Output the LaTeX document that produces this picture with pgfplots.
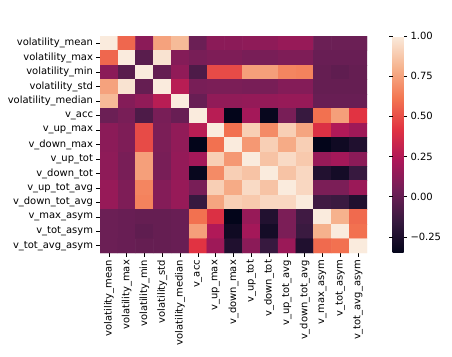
\documentclass[border=0pt]{standalone}
\usepackage{pgfplots}
\pgfplotsset{compat=1.18}
\usepackage{fontspec}
\setmainfont{DejaVu Sans}
\pgfplotsset{colormap={rocket}{rgb255(0)=(3,5,26) rgb255(1)=(53,25,62) rgb255(2)=(112,31,87) rgb255(3)=(173,23,89) rgb255(4)=(225,51,66) rgb255(5)=(243,118,81) rgb255(6)=(246,180,143) rgb255(7)=(250,235,221)}}
\begin{document}
\begin{tikzpicture}
\useasboundingbox (0,0) rectangle (452bp,357bp);
\begin{axis}[
  at={(100bp,104bp)}, anchor=south west,
  width=267bp, height=217bp, scale only axis,
  xmin=-0.5, xmax=14.5, ymin=-0.5, ymax=14.5,
  y dir=reverse,
  colormap name=rocket,
  point meta min=-0.35, point meta max=1.0,
  axis line style={draw=none},
  tick style={black, line width=0.6pt},
  tick align=outside, major tick length=3.5bp,
  xtick pos=left, ytick pos=left,
  xtick={0,...,14}, ytick={0,...,14},
  font=\fontsize{10}{12}\selectfont,
  xticklabels={volatility\_mean,volatility\_max,volatility\_min,volatility\_std,volatility\_median,v\_acc,v\_up\_max,v\_down\_max,v\_up\_tot,v\_down\_tot,v\_up\_tot\_avg,v\_down\_tot\_avg,v\_max\_asym,v\_tot\_asym,v\_tot\_avg\_asym},
  yticklabels={volatility\_mean,volatility\_max,volatility\_min,volatility\_std,volatility\_median,v\_acc,v\_up\_max,v\_down\_max,v\_up\_tot,v\_down\_tot,v\_up\_tot\_avg,v\_down\_tot\_avg,v\_max\_asym,v\_tot\_asym,v\_tot\_avg\_asym},
  xticklabel style={rotate=90, anchor=east, font=\fontsize{10}{12}\selectfont},
  yticklabel style={font=\fontsize{10}{12}\selectfont},
  colorbar right,
  colorbar style={
    width=11bp, at={(parent axis.north east)}, anchor=north west, xshift=17bp,
    axis line style={draw=none},
    ytick={-0.25,0,0.25,0.5,0.75,1},
    yticklabels={−0.25,0.00,0.25,0.50,0.75,1.00},
    yticklabel style={font=\fontsize{10}{12}\selectfont},
    tick style={black, line width=0.6pt},
    tick align=outside, major tick length=3.5bp,
  },
]
\addplot[matrix plot*, mesh/cols=15, mesh/rows=15, point meta=explicit] coordinates {
(0,0)[1.00] (1,0)[0.57] (2,0)[0.12] (3,0)[0.75] (4,0)[0.83] (5,0)[0.02] (6,0)[0.12] (7,0)[0.12] (8,0)[0.13] (9,0)[0.13] (10,0)[0.16] (11,0)[0.16] (12,0)[0.02] (13,0)[0.02] (14,0)[0.02]

(0,1)[0.57] (1,1)[1.00] (2,1)[-0.04] (3,1)[0.97] (4,1)[0.10] (5,1)[0.06] (6,1)[0.08] (7,1)[0.08] (8,1)[0.06] (9,1)[0.06] (10,1)[0.08] (11,1)[0.08] (12,1)[0.01] (13,1)[0.01] (14,1)[0.01]

(0,2)[0.12] (1,2)[-0.04] (2,2)[1.00] (3,2)[0.00] (4,2)[0.14] (5,2)[-0.08] (6,2)[0.49] (7,2)[0.49] (8,2)[0.74] (9,2)[0.74] (10,2)[0.66] (11,2)[0.65] (12,2)[0.00] (13,2)[-0.02] (14,2)[0.00]

(0,3)[0.75] (1,3)[0.97] (2,3)[0.00] (3,3)[1.00] (4,3)[0.27] (5,3)[0.06] (6,3)[0.07] (7,3)[0.07] (8,3)[0.06] (9,3)[0.06] (10,3)[0.10] (11,3)[0.10] (12,3)[0.00] (13,3)[0.00] (14,3)[0.00]

(0,4)[0.83] (1,4)[0.10] (2,4)[0.14] (3,4)[0.27] (4,4)[1.00] (5,4)[0.01] (6,4)[0.14] (7,4)[0.14] (8,4)[0.15] (9,4)[0.15] (10,4)[0.16] (11,4)[0.16] (12,4)[0.01] (13,4)[0.01] (14,4)[0.01]

(0,5)[0.02] (1,5)[0.06] (2,5)[-0.08] (3,5)[0.06] (4,5)[0.01] (5,5)[1.00] (6,5)[0.27] (7,5)[-0.35] (8,5)[0.20] (9,5)[-0.33] (10,5)[0.06] (11,5)[-0.15] (12,5)[0.60] (13,5)[0.74] (14,5)[0.42]

(0,6)[0.12] (1,6)[0.08] (2,6)[0.49] (3,6)[0.07] (4,6)[0.14] (5,6)[0.27] (6,6)[1.00] (7,6)[0.60] (8,6)[0.90] (9,6)[0.68] (10,6)[0.90] (11,6)[0.76] (12,6)[0.40] (13,6)[0.24] (14,6)[0.18]

(0,7)[0.12] (1,7)[0.08] (2,7)[0.49] (3,7)[0.07] (4,7)[0.14] (5,7)[-0.35] (6,7)[0.60] (7,7)[1.00] (8,7)[0.72] (9,7)[0.90] (10,7)[0.78] (11,7)[0.90] (12,7)[-0.35] (13,7)[-0.30] (14,7)[-0.24]

(0,8)[0.13] (1,8)[0.06] (2,8)[0.74] (3,8)[0.06] (4,8)[0.15] (5,8)[0.20] (6,8)[0.90] (7,8)[0.72] (8,8)[1.00] (9,8)[0.86] (10,8)[0.94] (11,8)[0.88] (12,8)[0.16] (13,8)[0.20] (14,8)[0.12]

(0,9)[0.13] (1,9)[0.06] (2,9)[0.74] (3,9)[0.06] (4,9)[0.15] (5,9)[-0.33] (6,9)[0.68] (7,9)[0.90] (8,9)[0.86] (9,9)[1.00] (10,9)[0.86] (11,9)[0.93] (12,9)[-0.23] (13,9)[-0.28] (14,9)[-0.15]

(0,10)[0.16] (1,10)[0.08] (2,10)[0.66] (3,10)[0.10] (4,10)[0.16] (5,10)[0.06] (6,10)[0.90] (7,10)[0.78] (8,10)[0.94] (9,10)[0.86] (10,10)[1.00] (11,10)[0.93] (12,10)[0.07] (13,10)[0.07] (14,10)[0.17]

(0,11)[0.16] (1,11)[0.08] (2,11)[0.65] (3,11)[0.10] (4,11)[0.16] (5,11)[-0.15] (6,11)[0.76] (7,11)[0.90] (8,11)[0.88] (9,11)[0.93] (10,11)[0.93] (11,11)[1.00] (12,11)[-0.12] (13,11)[-0.14] (14,11)[-0.24]

(0,12)[0.02] (1,12)[0.01] (2,12)[0.00] (3,12)[0.00] (4,12)[0.01] (5,12)[0.60] (6,12)[0.40] (7,12)[-0.35] (8,12)[0.16] (9,12)[-0.23] (10,12)[0.07] (11,12)[-0.12] (12,12)[1.00] (13,12)[0.80] (14,12)[0.58]

(0,13)[0.02] (1,13)[0.01] (2,13)[-0.02] (3,13)[0.00] (4,13)[0.01] (5,13)[0.74] (6,13)[0.24] (7,13)[-0.30] (8,13)[0.20] (9,13)[-0.28] (10,13)[0.07] (11,13)[-0.14] (12,13)[0.80] (13,13)[1.00] (14,13)[0.60]

(0,14)[0.02] (1,14)[0.01] (2,14)[0.00] (3,14)[0.00] (4,14)[0.01] (5,14)[0.42] (6,14)[0.18] (7,14)[-0.24] (8,14)[0.12] (9,14)[-0.15] (10,14)[0.17] (11,14)[-0.24] (12,14)[0.58] (13,14)[0.60] (14,14)[1.00]
};
\end{axis}
\end{tikzpicture}
\end{document}
